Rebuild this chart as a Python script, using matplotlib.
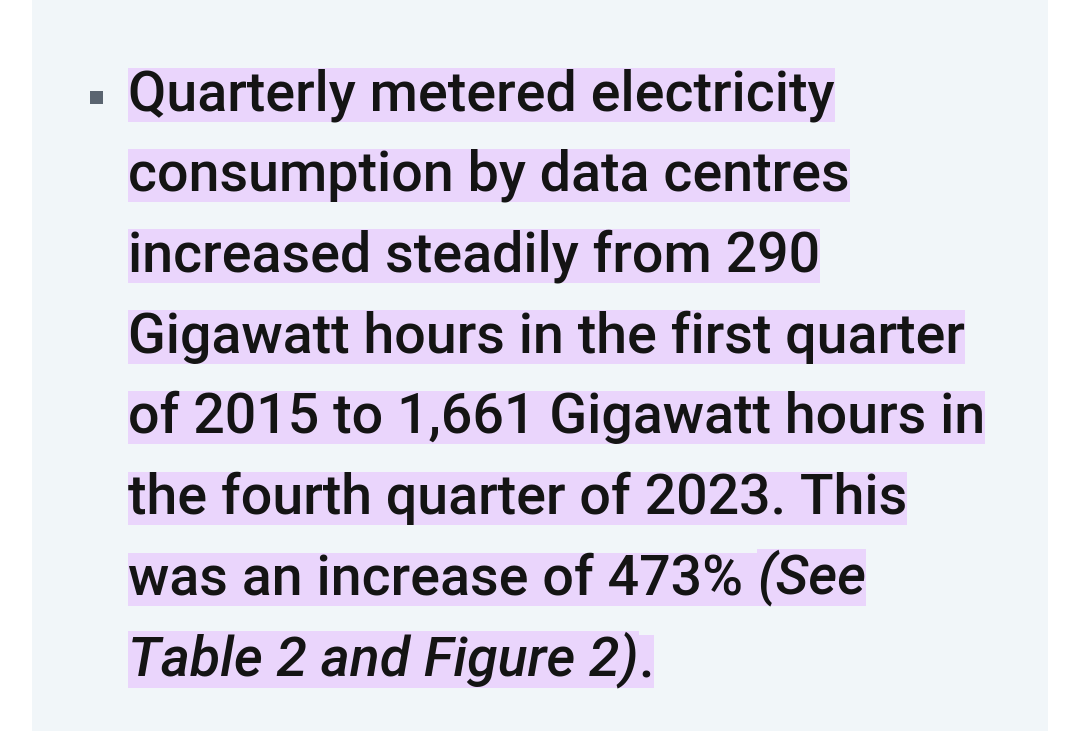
import matplotlib
matplotlib.use("Agg")
import matplotlib.pyplot as plt
from matplotlib.patches import Rectangle

lines = [
    [("Quarterly metered electricity", "normal")],
    [("consumption by data centres", "normal")],
    [("increased steadily from 290", "normal")],
    [("Gigawatt hours in the first quarter", "normal")],
    [("of 2015 to 1,661 Gigawatt hours in", "normal")],
    [("the fourth quarter of 2023. This", "normal")],
    [("was an increase of 473% ", "normal"), ("(See", "italic")],
    [("Table 2 and Figure 2)", "italic"), (".", "normal")],
]

W, H = 1079, 731
fig = plt.figure(figsize=(W/100, H/100), dpi=100)
fig.patch.set_facecolor("white")
fig.add_artist(Rectangle((32/W, 0), (1048-32)/W, 1, transform=fig.transFigure,
                         facecolor="#f1f6f9", edgecolor="none"))
fig.add_artist(Rectangle((90/W, 1-104/H), 13/W, 13/H, transform=fig.transFigure,
                         facecolor="#5a6470", edgecolor="none"))

fs = 40
hl = "#ead5fc"
y0, dy = 95, 80.7
for i, runs in enumerate(lines):
    y = 1 - (y0 + i*dy)/H
    last = None
    for txt, style in runs:
        kw = dict(fontsize=fs, family="Roboto", style=style, weight=500, color="#141414",
                  bbox=dict(boxstyle="square,pad=0.0", fc=hl, ec="none"))
        if last is None:
            last = fig.text(128/W, y, txt, va="center", ha="left", **kw)
        else:
            last = fig.add_artist(plt.Annotation(txt, xy=(1, 0), xycoords=last,
                                                 va="bottom", ha="left", **kw))

fig.savefig("out.png", dpi=100, facecolor="white")
